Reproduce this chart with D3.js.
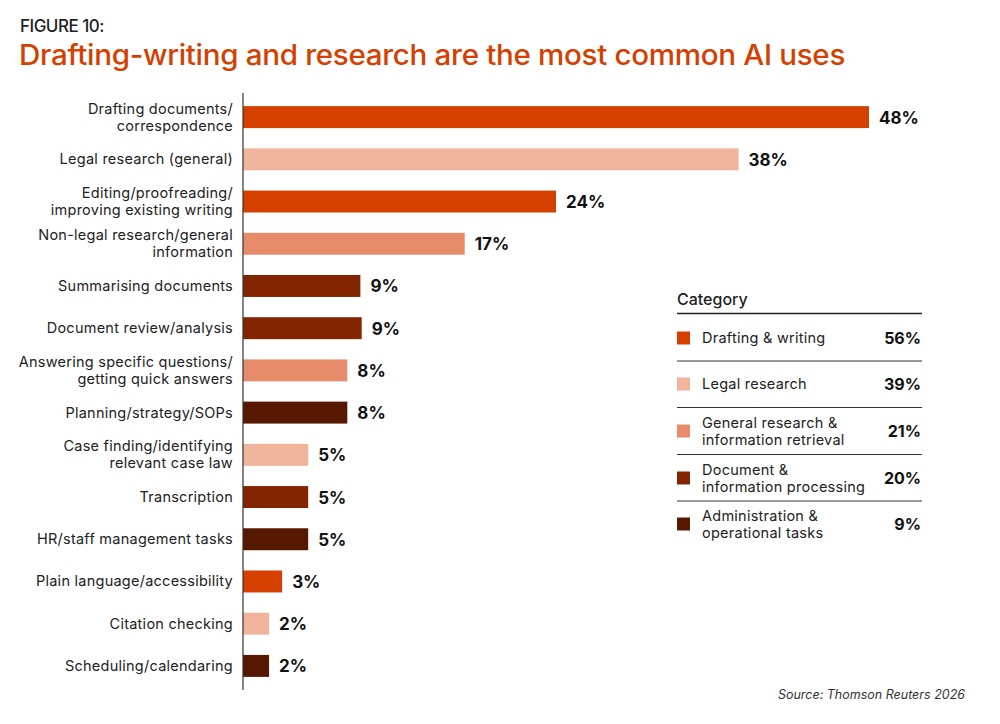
<!DOCTYPE html>
<html><head><meta charset="utf-8">
<script src="https://cdn.jsdelivr.net/npm/d3@7/dist/d3.min.js"></script>
<style>
body{margin:0;background:#fff;}
svg{display:block;font-family:Inter,"Noto Sans",sans-serif;}
</style></head>
<body><svg id="c" width="1000" height="724"></svg>
<script>
const categories = [
  "Drafting documents/\ncorrespondence",
  "Legal research (general)",
  "Editing/proofreading/\nimproving existing writing",
  "Non-legal research/general\ninformation",
  "Summarising documents",
  "Document review/analysis",
  "Answering specific questions/\ngetting quick answers",
  "Planning/strategy/SOPs",
  "Case finding/identifying\nrelevant case law",
  "Transcription",
  "HR/staff management tasks",
  "Plain language/accessibility",
  "Citation checking",
  "Scheduling/calendaring"
];
const values = [48, 38, 24, 17, 9, 9.1, 8, 8, 5, 5, 5, 3, 2, 2];
const valueLabels = ["48%","38%","24%","17%","9%","9%","8%","8%","5%","5%","5%","3%","2%","2%"];
const barGroups = ["Drafting & writing","Legal research","Drafting & writing","General research & information retrieval",
  "Document & information processing","Document & information processing","General research & information retrieval",
  "Administration & operational tasks","Legal research","Document & information processing",
  "Administration & operational tasks","Drafting & writing","Legal research","Administration & operational tasks"];
const legendGroups = ["Drafting & writing","Legal research","General research & information retrieval",
  "Document & information processing","Administration & operational tasks"];
const legendLabels = ["Drafting & writing","Legal research","General research &\ninformation retrieval",
  "Document &\ninformation processing","Administration &\noperational tasks"];
const legendShares = ["56%","39%","21%","20%","9%"];
const groupColors = ["#D54000","#F0B39B","#E78C6A","#822500","#561900"];

const svg = d3.select("#c");
const color = d3.scaleOrdinal().domain(legendGroups).range(groupColors);
const x = d3.scaleLinear().domain([0,48]).range([243,869]);
const y = d3.scaleBand().domain(categories).range([96,687]).paddingInner(0.48).paddingOuter(0.24);

// Header
svg.append("text").attr("x",20).attr("y",32).attr("font-size",17).attr("font-weight",500)
  .attr("fill","#1f1f1f").attr("letter-spacing","-0.5").text("FIGURE 10:");
const title = svg.append("text").attr("x",19).attr("y",65).attr("font-size",28).attr("font-weight",500)
  .attr("fill","#D54000").attr("letter-spacing","-0.3").text("Drafting-writing and research are the most common AI uses");
title.attr("textLength",826).attr("lengthAdjust","spacingAndGlyphs");

// Bars
svg.append("g").selectAll("rect").data(categories).join("rect")
  .attr("x",x(0)).attr("y",d=>y(d)).attr("height",y.bandwidth())
  .attr("width",(d,i)=>x(values[i])-x(0)).attr("fill",(d,i)=>color(barGroups[i]));

// Axis line
svg.append("line").attr("x1",x(0)).attr("x2",x(0)).attr("y1",93).attr("y2",690)
  .attr("stroke","#333").attr("stroke-width",1.2);

// Category labels
const lab = svg.append("g").selectAll("text").data(categories).join("text")
  .attr("text-anchor","end").attr("font-size",14.5).attr("letter-spacing","0.25").attr("fill","#222");
lab.each(function(d){
  const lines = d.split("\n");
  const cy = y(d)+y.bandwidth()/2;
  const t = d3.select(this);
  lines.forEach((l,k)=>{
    t.append("tspan").attr("x",233).attr("y",cy + 5 + (k-(lines.length-1)/2)*17).text(l);
  });
});

// Value labels
svg.append("g").selectAll("text").data(categories).join("text")
  .attr("x",(d,i)=>x(values[i])+10).attr("y",d=>y(d)+y.bandwidth()/2+6.5)
  .attr("font-size",17).attr("font-weight",700).attr("fill","#111").text((d,i)=>valueLabels[i]);

// Legend
const lg = svg.append("g");
lg.append("text").attr("x",677).attr("y",305).attr("font-size",16).attr("font-weight",500).attr("fill","#1f1f1f").text("Category");
lg.append("line").attr("x1",677).attr("x2",922).attr("y1",313.5).attr("y2",313.5).attr("stroke","#222").attr("stroke-width",1.3);
const rowY = [338,384,431,478,524];
legendGroups.forEach((g,i)=>{
  const cy = rowY[i];
  lg.append("rect").attr("x",677).attr("y",cy-6.5).attr("width",13).attr("height",13).attr("fill",color(g));
  const lines = legendLabels[i].split("\n");
  const t = lg.append("text").attr("font-size",14.5).attr("letter-spacing","0.25").attr("fill","#222");
  lines.forEach((l,k)=>{
    t.append("tspan").attr("x",702).attr("y",cy+5+(k-(lines.length-1)/2)*17).text(l);
  });
  lg.append("text").attr("x",921).attr("y",cy+6).attr("text-anchor","end").attr("font-size",16)
    .attr("font-weight",700).attr("fill","#111").text(legendShares[i]);
  if(i<legendGroups.length-1){
    const sy = (rowY[i]+rowY[i+1])/2;
    lg.append("line").attr("x1",677).attr("x2",922).attr("y1",sy).attr("y2",sy).attr("stroke","#333").attr("stroke-width",1);
  }
});

// Source
svg.append("text").attr("x",965).attr("y",699).attr("text-anchor","end").attr("font-size",12.5)
  .attr("font-style","italic").attr("fill","#333").text("Source: Thomson Reuters 2026");
</script></body></html>
